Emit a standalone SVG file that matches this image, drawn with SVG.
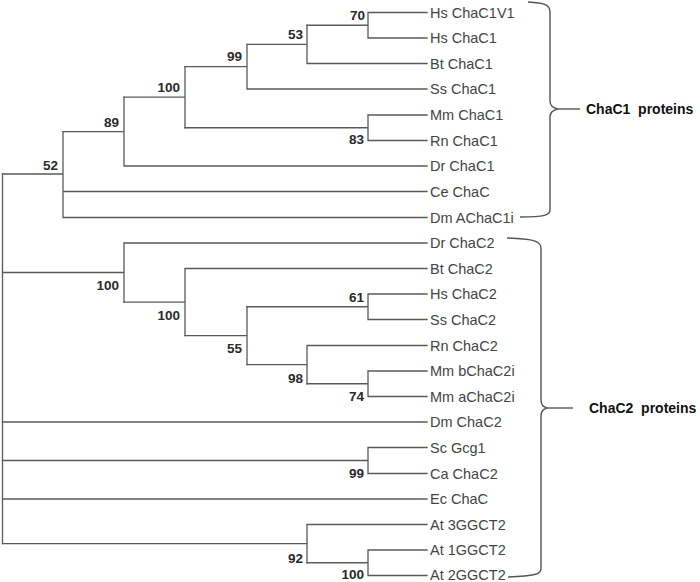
<svg xmlns="http://www.w3.org/2000/svg" width="700" height="582" viewBox="0 0 700 582">
<style>
.br{fill:none;stroke:#5a5a5a;stroke-width:1.3;stroke-linecap:square}
.bk{fill:none;stroke:#555;stroke-width:1.4}
.lf{font-family:"Liberation Sans",Arial,sans-serif;font-size:14.5px;fill:#444}
.bs{font-family:"Liberation Sans",Arial,sans-serif;font-size:13.5px;font-weight:bold;fill:#2a2a2a;text-anchor:end}
.gp{font-family:"Liberation Sans",Arial,sans-serif;font-size:14px;font-weight:bold;fill:#111;white-space:pre}
</style>
<rect width="700" height="582" fill="#fff"/>
<g id="connectors">
<path class="br" d="M2.5,174V543.6"/>
<path class="br" d="M2.5,174H63M63,131.6V217.5M63,191.5H427M63,217.5H427"/>
<path class="br" d="M63,131.6H124M124,97.2V166M124,166H427"/>
<path class="br" d="M124,97.2H185M185,66.7V127.75"/>
<path class="br" d="M185,66.7H247M247,44.4V89M247,89H427"/>
<path class="br" d="M247,44.4H307M307,25.25V63.5M307,63.5H427"/>
<path class="br" d="M307,25.25H368M368,12.5V38M368,12.5H427M368,38H427"/>
<path class="br" d="M185,127.75H368M368,115V140.5M368,115H427M368,140.5H427"/>
<path class="br" d="M2.5,272.5H124M124,243V302.1M124,243H427"/>
<path class="br" d="M124,302.1H185M185,268.5V335.7M185,268.5H427"/>
<path class="br" d="M185,335.7H247M247,306.75V364.6"/>
<path class="br" d="M247,306.75H368M368,294V319.5M368,294H427M368,319.5H427"/>
<path class="br" d="M247,364.6H307M307,345.5V383.75M307,345.5H427"/>
<path class="br" d="M307,383.75H368M368,371V396.5M368,371H427M368,396.5H427"/>
<path class="br" d="M2.5,422H427"/>
<path class="br" d="M2.5,460.5H368M368,447.5V473.5M368,447.5H427M368,473.5H427"/>
<path class="br" d="M2.5,499H427"/>
<path class="br" d="M2.5,543.6H307M307,524.5V562.75M307,524.5H427"/>
<path class="br" d="M307,562.75H368M368,550V575.5M368,550H427M368,575.5H427"/>
</g>
<g id="brackets">
<path class="bk" d="M528,2C543,3 550,4 550,12L550,101C550,106 553,108 558,109C553,110 550,112 550,117L550,210C550,215 545,217 520,217"/>
<path class="bk" d="M558,109H580"/>
<path class="bk" d="M507,238C530,239 541,240 541,248L541,400C541,405 543,407 547,408C543,409 541,411 541,416L541,569C541,574 535,576 508,577"/>
<path class="bk" d="M547,408H573"/>
</g>
<g id="leaves">
<g id="leaf-hs-chac1v1"><text class="lf" x="430" y="17.5">Hs ChaC1V1</text></g>
<g id="leaf-hs-chac1"><text class="lf" x="430" y="43">Hs ChaC1</text></g>
<g id="leaf-bt-chac1"><text class="lf" x="430" y="68.5">Bt ChaC1</text></g>
<g id="leaf-ss-chac1"><text class="lf" x="430" y="94">Ss ChaC1</text></g>
<g id="leaf-mm-chac1"><text class="lf" x="430" y="120">Mm ChaC1</text></g>
<g id="leaf-rn-chac1"><text class="lf" x="430" y="145.5">Rn ChaC1</text></g>
<g id="leaf-dr-chac1"><text class="lf" x="430" y="171">Dr ChaC1</text></g>
<g id="leaf-ce-chac"><text class="lf" x="430" y="196.5">Ce ChaC</text></g>
<g id="leaf-dm-achac1i"><text class="lf" x="430" y="222.5">Dm AChaC1i</text></g>
<g id="leaf-dr-chac2"><text class="lf" x="430" y="248">Dr ChaC2</text></g>
<g id="leaf-bt-chac2"><text class="lf" x="430" y="273.5">Bt ChaC2</text></g>
<g id="leaf-hs-chac2"><text class="lf" x="430" y="299">Hs ChaC2</text></g>
<g id="leaf-ss-chac2"><text class="lf" x="430" y="324.5">Ss ChaC2</text></g>
<g id="leaf-rn-chac2"><text class="lf" x="430" y="350.5">Rn ChaC2</text></g>
<g id="leaf-mm-bchac2i"><text class="lf" x="430" y="376">Mm bChaC2i</text></g>
<g id="leaf-mm-achac2i"><text class="lf" x="430" y="401.5">Mm aChaC2i</text></g>
<g id="leaf-dm-chac2"><text class="lf" x="430" y="427">Dm ChaC2</text></g>
<g id="leaf-sc-gcg1"><text class="lf" x="430" y="452.5">Sc Gcg1</text></g>
<g id="leaf-ca-chac2"><text class="lf" x="430" y="478.5">Ca ChaC2</text></g>
<g id="leaf-ec-chac"><text class="lf" x="430" y="504">Ec ChaC</text></g>
<g id="leaf-at-3ggct2"><text class="lf" x="430" y="529.5">At 3GGCT2</text></g>
<g id="leaf-at-1ggct2"><text class="lf" x="430" y="555">At 1GGCT2</text></g>
<g id="leaf-at-2ggct2"><text class="lf" x="430" y="579.5">At 2GGCT2</text></g>
</g>
<g id="support">
<g id="n70"><text class="bs" x="365" y="20">70</text></g>
<g id="n53"><text class="bs" x="303" y="38.5">53</text></g>
<g id="n99a"><text class="bs" x="242" y="61">99</text></g>
<g id="n100a"><text class="bs" x="180" y="91.5">100</text></g>
<g id="n89"><text class="bs" x="119" y="126.5">89</text></g>
<g id="n52"><text class="bs" x="58" y="169.5">52</text></g>
<g id="n83"><text class="bs" x="364" y="144">83</text></g>
<g id="n100b"><text class="bs" x="119" y="290">100</text></g>
<g id="n100c"><text class="bs" x="180" y="320">100</text></g>
<g id="n55"><text class="bs" x="242" y="353">55</text></g>
<g id="n61"><text class="bs" x="364" y="301.5">61</text></g>
<g id="n98"><text class="bs" x="303" y="383">98</text></g>
<g id="n74"><text class="bs" x="364" y="401">74</text></g>
<g id="n99b"><text class="bs" x="364" y="478">99</text></g>
<g id="n92"><text class="bs" x="303" y="563">92</text></g>
<g id="n100d"><text class="bs" x="364" y="579">100</text></g>
</g>
<g id="groups">
<g id="grp-chac1"><text class="gp" x="586" y="114">ChaC1  proteins</text></g>
<g id="grp-chac2"><text class="gp" x="589" y="413">ChaC2  proteins</text></g>
</g>
</svg>
